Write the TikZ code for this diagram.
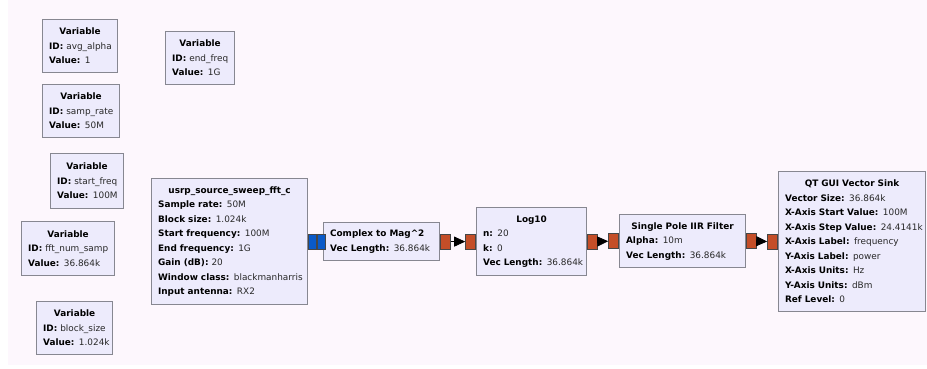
\documentclass[tikz,border=0pt]{standalone}
\usepackage{fontspec}
\setmainfont{DejaVu Sans}
\usepackage{tikz}
\usetikzlibrary{arrows.meta}
\definecolor{bgpink}{RGB}{253,247,253}
\definecolor{blockfill}{RGB}{237,235,252}
\definecolor{blockedge}{RGB}{135,135,145}
\definecolor{portedge}{RGB}{70,70,70}
\definecolor{portred}{RGB}{196,78,40}
\definecolor{portblue}{RGB}{10,90,200}
\definecolor{valgray}{RGB}{40,40,40}
\newcommand{\blktitle}[1]{\makebox[\linewidth][c]{\bfseries #1}}
\newcommand{\prm}[2]{\mbox{\textbf{#1:} \textcolor{valgray}{#2}}}

\begin{document}
\begin{tikzpicture}[x=1pt,y=-1pt,
    block/.style={draw=blockedge,line width=1.2pt,fill=blockfill,anchor=north west,
      inner xsep=6.5pt,inner ysep=0pt,align=left,
      font=\fontsize{8.9}{14.5}\selectfont},
    port/.style={draw=portedge,line width=0.8pt,minimum height=15pt,inner sep=0pt},
    rport/.style={port,fill=portred,minimum width=10pt},
    bport/.style={port,fill=portblue,minimum width=8pt},
    link/.style={-{Triangle[length=11pt,width=10pt]},line width=0.8pt}]
  \useasboundingbox (0,0) rectangle (927,369);
  \fill[bgpink] (8,0) rectangle (927,365);

  % variables
  \node[block,text width=62pt,minimum height=53pt] (varavg) at (42,19)
    {\blktitle{Variable}\\ \prm{ID}{avg\_alpha}\\ \prm{Value}{1}};
  \node[block,text width=56pt,minimum height=53pt] (varend) at (165,31)
    {\blktitle{Variable}\\ \prm{ID}{end\_freq}\\ \prm{Value}{1G}};
  \node[block,text width=64pt,minimum height=53pt] (varsamp) at (42,84)
    {\blktitle{Variable}\\ \prm{ID}{samp\_rate}\\ \prm{Value}{50M}};
  \node[block,text width=60pt,minimum height=55pt] (varstart) at (50,153)
    {\blktitle{Variable}\\ \prm{ID}{start\_freq}\\ \prm{Value}{100M}};
  \node[block,text width=80pt,minimum height=54pt] (varfft) at (21,221)
    {\blktitle{Variable}\\ \prm{ID}{fft\_num\_samp}\\ \prm{Value}{36.864k}};
  \node[block,text width=63pt,minimum height=53pt] (varblock) at (36,301)
    {\blktitle{Variable}\\ \prm{ID}{block\_size}\\ \prm{Value}{1.024k}};

  % flow graph
  \node[block,text width=143pt,minimum height=126pt] (usrp) at (151,178)
    {\blktitle{usrp\_source\_sweep\_fft\_c}\\ \prm{Sample rate}{50M}\\
     \prm{Block size}{1.024k}\\ \prm{Start frequency}{100M}\\
     \prm{End frequency}{1G}\\ \prm{Gain (dB)}{20}\\
     \prm{Window class}{blackmanharris}\\ \prm{Input antenna}{RX2}};
  \node[block,text width=103pt,minimum height=38pt] (c2mag) at (323,222)
    {\mbox{\bfseries Complex to Mag\textasciicircum{}2}\\ \prm{Vec Length}{36.864k}};
  \node[block,text width=97pt,minimum height=68pt] (logten) at (476,207)
    {\blktitle{Log10}\\ \prm{n}{20}\\ \prm{k}{0}\\ \prm{Vec Length}{36.864k}};
  \node[block,text width=113pt,minimum height=53pt] (iir) at (619,214)
    {\blktitle{Single Pole IIR Filter}\\ \prm{Alpha}{10m}\\ \prm{Vec Length}{36.864k}};
  \node[block,text width=134pt,minimum height=140pt] (vsink) at (778,171)
    {\blktitle{QT GUI Vector Sink}\\ \prm{Vector Size}{36.864k}\\
     \prm{X-Axis Start Value}{100M}\\ \prm{X-Axis Step Value}{24.4141k}\\
     \prm{X-Axis Label}{frequency}\\ \prm{Y-Axis Label}{power}\\
     \prm{X-Axis Units}{Hz}\\ \prm{Y-Axis Units}{dBm}\\ \prm{Ref Level}{0}};

  % ports
  \node[bport,anchor=west] (usrpout) at (usrp.east) {};
  \node[bport,anchor=west] (c2magin) at (usrpout.east) {};
  \node[rport,anchor=west] (c2magout) at (c2mag.east) {};
  \node[rport,anchor=east] (login) at (logten.west) {};
  \node[rport,anchor=west] (logout) at (logten.east) {};
  \node[rport,anchor=east] (iirin) at (iir.west) {};
  \node[rport,anchor=west] (iirout) at (iir.east) {};
  \node[rport,anchor=east] (sinkin) at (vsink.west) {};

  \draw[link] (c2magout) -- (login);
  \draw[link] (logout) -- (iirin);
  \draw[link] (iirout) -- (sinkin);
\end{tikzpicture}
\end{document}
